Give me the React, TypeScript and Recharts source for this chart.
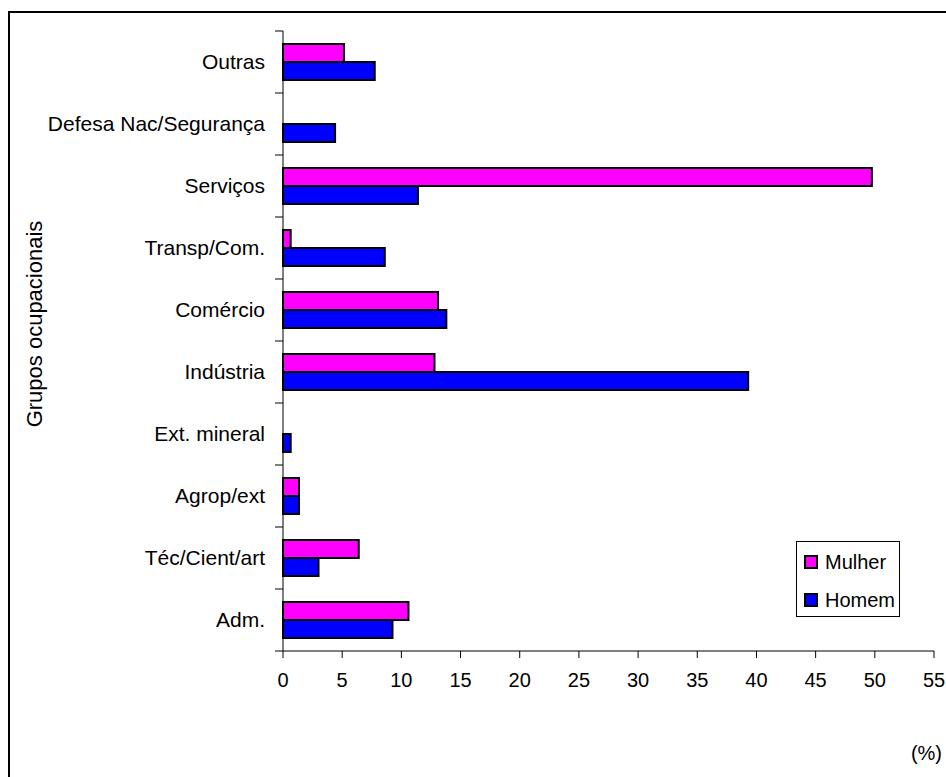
import React from 'react';
import { BarChart, Bar, XAxis, YAxis, Legend, Label } from 'recharts';

// top to bottom, as drawn
const grupos = [
  'Outras',
  'Defesa Nac/Segurança',
  'Serviços',
  'Transp/Com.',
  'Comércio',
  'Indústria',
  'Ext. mineral',
  'Agrop/ext',
  'Téc/Cient/art',
  'Adm.',
];
const mulher = [5.15, 0, 49.75, 0.65, 13.1, 12.8, 0, 1.35, 6.4, 10.6];
const homem = [7.75, 4.4, 11.4, 8.6, 13.8, 39.3, 0.65, 1.35, 3.0, 9.25];
const xTicks = [0, 5, 10, 15, 20, 25, 30, 35, 40, 45, 50, 55];

const data = grupos.map((g, i) => ({ grupo: g, Mulher: mulher[i], Homem: homem[i] }));

const FONT = '"Liberation Sans", Arial, Helvetica, sans-serif';
const W = 938;
const H = 769;
const PLOT_TOP = 23;
const PLOT_H = 620;
const HALF_BAND = PLOT_H / grupos.length / 2;

const CategoryTick = ({ x, y, payload, index }: any) => {
  const last = index === grupos.length - 1;
  return (
    <g>
      <line x1={x - 8} y1={y - HALF_BAND} x2={x} y2={y - HALF_BAND} stroke="#000" strokeWidth={1} />
      {last && <line x1={x - 8} y1={y + HALF_BAND} x2={x} y2={y + HALF_BAND} stroke="#000" strokeWidth={1} />}
      <text x={x - 18} y={y} dy="0.35em" textAnchor="end" fill="#000" fontSize={21} fontFamily={FONT}>
        {payload.value}
      </text>
    </g>
  );
};

const LegendBox = () => (
  <div
    style={{
      border: '1px solid #000',
      background: '#fff',
      width: 104,
      height: 76,
      boxSizing: 'border-box',
      fontFamily: FONT,
      fontSize: 20,
      color: '#000',
      position: 'relative',
    }}
  >
    {[
      { name: 'Mulher', color: '#FF00FF', top: 13 },
      { name: 'Homem', color: '#0000FF', top: 51 },
    ].map((it) => (
      <div key={it.name} style={{ position: 'absolute', left: 7, top: it.top, display: 'flex', alignItems: 'center', height: 14 }}>
        <span
          style={{
            display: 'inline-block',
            width: 10,
            height: 10,
            background: it.color,
            border: '2px solid #000',
            marginRight: 7,
          }}
        />
        <span style={{ lineHeight: '14px' }}>{it.name}</span>
      </div>
    ))}
  </div>
);

export default function App() {
  return (
    <div style={{ position: 'relative', width: W, height: H, overflow: 'hidden', background: '#fff' }}>
      <style>{'body { margin: 8px 0 0 8px; }'}</style>
      <div
        style={{
          position: 'absolute',
          left: 0,
          top: 3,
          width: W + 40,
          height: H + 40,
          border: '2px solid #000',
          boxSizing: 'border-box',
          pointerEvents: 'none',
        }}
      />
      <BarChart
        width={W}
        height={H}
        data={data}
        layout="vertical"
        margin={{ top: PLOT_TOP, right: 12, bottom: 0, left: 0 }}
        barGap={0}
        barSize={18}
      >
        <XAxis
          type="number"
          domain={[0, 55]}
          ticks={xTicks}
          interval={0}
          height={H - PLOT_TOP - PLOT_H}
          axisLine={{ stroke: '#000' }}
          tickLine={{ stroke: '#000' }}
          tickSize={7}
          tickMargin={15}
          tick={{ fill: '#000', fontSize: 20, fontFamily: FONT }}
        >
          <Label
            content={() => (
              <text x={934} y={752} textAnchor="end" fill="#000" fontSize={20} fontFamily={FONT}>
                (%)
              </text>
            )}
          />
        </XAxis>
        <YAxis
          type="category"
          dataKey="grupo"
          width={275}
          interval={0}
          axisLine={{ stroke: '#000' }}
          tickLine={false}
          tickSize={0}
          tickMargin={0}
          tick={<CategoryTick />}
        >
          <Label
            content={() => (
              <text
                x={0}
                y={0}
                transform="translate(26 316) rotate(-90)"
                textAnchor="middle"
                dominantBaseline="central"
                fill="#000"
                fontSize={22}
                fontFamily={FONT}
              >
                Grupos ocupacionais
              </text>
            )}
          />
        </YAxis>
        <Legend
          layout="horizontal"
          align="center"
          verticalAlign="middle"
          content={<LegendBox />}
          wrapperStyle={{ position: 'absolute', left: 788, top: 533, width: 104, bottom: 'auto', right: 'auto' }}
        />
        <Bar dataKey="Mulher" fill="#FF00FF" stroke="#000" strokeWidth={2} isAnimationActive={false} />
        <Bar dataKey="Homem" fill="#0000FF" stroke="#000" strokeWidth={2} isAnimationActive={false} />
      </BarChart>
    </div>
  );
}
